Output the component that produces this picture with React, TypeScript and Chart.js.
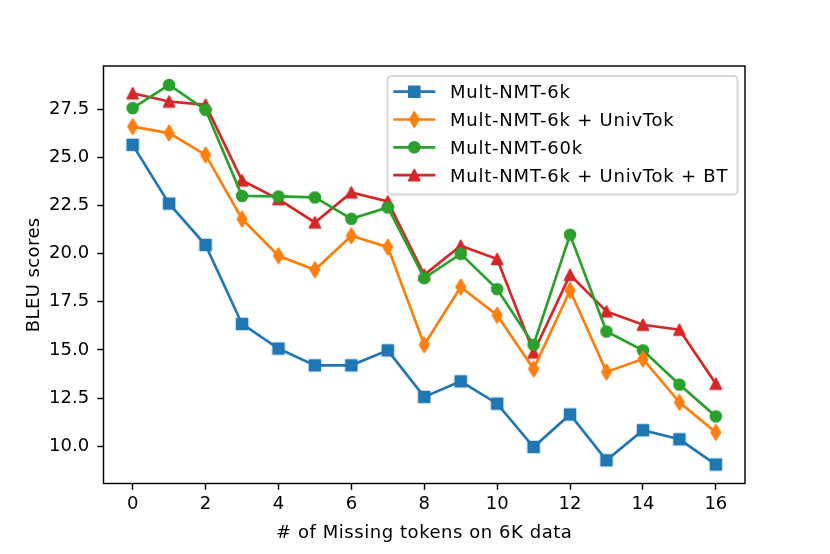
import React, { useEffect, useRef } from "react"
import { Chart, ChartConfiguration, Plugin, registerables } from "chart.js"

Chart.register(...registerables)

// values
const missingTokens = [0, 1, 2, 3, 4, 5, 6, 7, 8, 9, 10, 11, 12, 13, 14, 15, 16]
const multNmt6k = [25.65, 22.6, 20.45, 16.35, 15.07, 14.2, 14.2, 14.98, 12.56, 13.37, 12.21, 9.96, 11.65, 9.27, 10.83, 10.36, 9.05]
const multNmt6kUnivTok = [26.6, 26.26, 25.13, 21.8, 19.89, 19.16, 20.93, 20.34, 15.27, 18.27, 16.8, 14.01, 18.09, 13.86, 14.53, 12.28, 10.72]
const multNmt60k = [27.56, 28.76, 27.47, 23.0, 22.97, 22.92, 21.81, 22.4, 18.73, 19.99, 18.16, 15.27, 20.98, 15.96, 14.98, 13.2, 11.55]
const multNmt6kUnivTokBT = [28.33, 27.9, 27.73, 23.8, 22.83, 21.62, 23.18, 22.71, 18.9, 20.41, 19.72, 14.87, 18.9, 17.0, 16.31, 16.05, 13.25]

const xTicks = [0, 2, 4, 6, 8, 10, 12, 14, 16]
const yTicks = [10, 12.5, 15, 17.5, 20, 22.5, 25, 27.5]

const seriesLabels = ["Mult-NMT-6k", "Mult-NMT-6k + UnivTok", "Mult-NMT-60k", "Mult-NMT-6k + UnivTok + BT"]
const seriesColors = ["#1f77b4", "#ff7f0e", "#2ca02c", "#d62728"]
const seriesMarkers = ["square", "thinDiamond", "circle", "triangle"]

const xTitle = "# of Missing tokens on 6K data"
const yTitle = "BLEU scores"

const FONT = "'DejaVu Sans', sans-serif"
const MS = 10.8 // matplotlib markersize 6pt at this dpi
const MEW = 1.8
const LW = 2.7

function tracePath(ctx: CanvasRenderingContext2D, shape: string, cx: number, cy: number) {
	const h = MS / 2
	ctx.beginPath()
	if (shape === "square") {
		ctx.rect(cx - h, cy - h, MS, MS)
	} else if (shape === "circle") {
		ctx.arc(cx, cy, h, 0, Math.PI * 2)
	} else if (shape === "triangle") {
		ctx.moveTo(cx, cy - h)
		ctx.lineTo(cx + h, cy + h)
		ctx.lineTo(cx - h, cy + h)
		ctx.closePath()
	} else {
		const dy = MS * 0.7071
		const dx = dy * 0.6
		ctx.moveTo(cx, cy - dy)
		ctx.lineTo(cx + dx, cy)
		ctx.lineTo(cx, cy + dy)
		ctx.lineTo(cx - dx, cy)
		ctx.closePath()
	}
}

function drawMarker(ctx: CanvasRenderingContext2D, shape: string, color: string, cx: number, cy: number) {
	ctx.save()
	tracePath(ctx, shape, cx, cy)
	ctx.fillStyle = color
	ctx.strokeStyle = color
	ctx.lineWidth = MEW
	ctx.lineJoin = "round"
	ctx.fill()
	ctx.stroke()
	ctx.restore()
}

function makeMarker(shape: string, color: string) {
	const c = document.createElement("canvas")
	c.width = 20
	c.height = 20
	const ctx = c.getContext("2d")
	if (ctx) drawMarker(ctx, shape, color, 10, 10)
	return c
}

// axes box (all four spines) over the lines
const framePlugin: Plugin = {
	id: "frame",
	afterDatasetsDraw(chart) {
		const { ctx, chartArea: a } = chart
		ctx.save()
		ctx.strokeStyle = "#000"
		ctx.lineWidth = 1.44
		ctx.strokeRect(a.left, a.top, a.right - a.left, a.bottom - a.top)
		ctx.restore()
	},
}

// axis titles, with the slightly wider spacing of the hinted reference text
const titlesPlugin: Plugin = {
	id: "axisTitles",
	afterDraw(chart) {
		const { ctx, chartArea: a } = chart
		ctx.save()
		ctx.font = `18px ${FONT}`
		ctx.fillStyle = "#000"
		ctx.textAlign = "center"
		ctx.textBaseline = "alphabetic"
		;(ctx as any).letterSpacing = "0.55px"
		ctx.fillText(xTitle, (a.left + a.right) / 2, 537.9)
		;(ctx as any).letterSpacing = "0.4px"
		ctx.translate(38.6, (a.top + a.bottom) / 2)
		ctx.rotate(-Math.PI / 2)
		ctx.fillText(yTitle, 0, 0)
		ctx.restore()
	},
}

const legendPlugin: Plugin = {
	id: "mplLegend",
	afterDraw(chart) {
		const ctx = chart.ctx
		const x0 = 387.5
		const y0 = 76
		const w = 350
		const h = 118.5
		const r = 4
		ctx.save()
		ctx.beginPath()
		ctx.moveTo(x0 + r, y0)
		ctx.arcTo(x0 + w, y0, x0 + w, y0 + h, r)
		ctx.arcTo(x0 + w, y0 + h, x0, y0 + h, r)
		ctx.arcTo(x0, y0 + h, x0, y0, r)
		ctx.arcTo(x0, y0, x0 + w, y0, r)
		ctx.closePath()
		ctx.fillStyle = "rgba(255,255,255,0.8)"
		ctx.fill()
		ctx.strokeStyle = "rgba(204,204,204,0.8)"
		ctx.lineWidth = 1.8
		ctx.stroke()

		ctx.font = `18px ${FONT}`
		ctx.textBaseline = "alphabetic"
		ctx.textAlign = "left"
		;(ctx as any).letterSpacing = "0.77px"
		seriesLabels.forEach((label, i) => {
			const cy = 91.7 + i * 27.8
			ctx.strokeStyle = seriesColors[i]
			ctx.lineWidth = LW
			ctx.beginPath()
			ctx.moveTo(393.3, cy)
			ctx.lineTo(435.3, cy)
			ctx.stroke()
			drawMarker(ctx, seriesMarkers[i], seriesColors[i], 414.3, cy)
			ctx.fillStyle = "#000"
			ctx.fillText(label, 450, cy + 6.6)
		})
		ctx.restore()
	},
}

export default function App() {
	const chartRef = useRef<HTMLCanvasElement | null>(null)
	const chartInstance = useRef<Chart | null>(null)

	useEffect(() => {
		document.body.style.margin = "0"
		if (chartInstance.current) chartInstance.current.destroy()
		if (!chartRef.current) return
		const ctx = chartRef.current.getContext("2d")
		if (!ctx) return

		const allSeries = [multNmt6k, multNmt6kUnivTok, multNmt60k, multNmt6kUnivTokBT]
		const all = allSeries.flat()
		const lo = Math.min(...all)
		const hi = Math.max(...all)
		const pad = (hi - lo) * 0.05
		const xPad = (missingTokens[missingTokens.length - 1] - missingTokens[0]) * 0.05

		const config: ChartConfiguration = {
			type: "line",
			data: {
				datasets: allSeries.map((vals, i) => ({
					label: seriesLabels[i],
					data: vals.map((y, j) => ({ x: missingTokens[j], y })),
					borderColor: seriesColors[i],
					backgroundColor: seriesColors[i],
					borderWidth: LW,
					pointStyle: makeMarker(seriesMarkers[i], seriesColors[i]),
					pointRadius: 7,
					pointHoverRadius: 7,
					tension: 0,
					fill: false,
				})),
			},
			options: {
				animation: false,
				responsive: false,
				events: [],
				layout: { padding: { left: 0, top: 66, right: 85, bottom: 0 } },
				plugins: {
					legend: { display: false },
					tooltip: { enabled: false },
				},
				scales: {
					x: {
						type: "linear",
						min: missingTokens[0] - xPad,
						max: missingTokens[missingTokens.length - 1] + xPad,
						afterFit: (s) => {
							s.height = 70.5
						},
						afterBuildTicks: (s) => {
							s.ticks = xTicks.map((v) => ({ value: v }))
						},
						ticks: {
							color: "#000",
							font: { family: FONT, size: 18 },
							padding: 4,
							maxRotation: 0,
							autoSkip: false,
						},
						grid: { drawOnChartArea: false, tickLength: 6.3, tickColor: "#000", tickWidth: 1.44 },
						border: { display: false },
					},
					y: {
						type: "linear",
						min: lo - pad,
						max: hi + pad,
						afterFit: (s) => {
							s.width = 103.5
						},
						afterBuildTicks: (s) => {
							s.ticks = yTicks.map((v) => ({ value: v }))
						},
						ticks: {
							color: "#000",
							font: { family: FONT, size: 18 },
							padding: 8,
							callback: (v) => Number(v).toFixed(1),
						},
						grid: { drawOnChartArea: false, tickLength: 6.3, tickColor: "#000", tickWidth: 1.44 },
						border: { display: false },
					},
				},
			},
			plugins: [framePlugin, titlesPlugin, legendPlugin],
		}

		chartInstance.current = new Chart(ctx, config)

		return () => {
			if (chartInstance.current) {
				chartInstance.current.destroy()
				chartInstance.current = null
			}
		}
	}, [])

	return (
		<div style={{ width: 830, height: 554 }}>
			<canvas ref={chartRef} width={830} height={554}></canvas>
		</div>
	)
}
